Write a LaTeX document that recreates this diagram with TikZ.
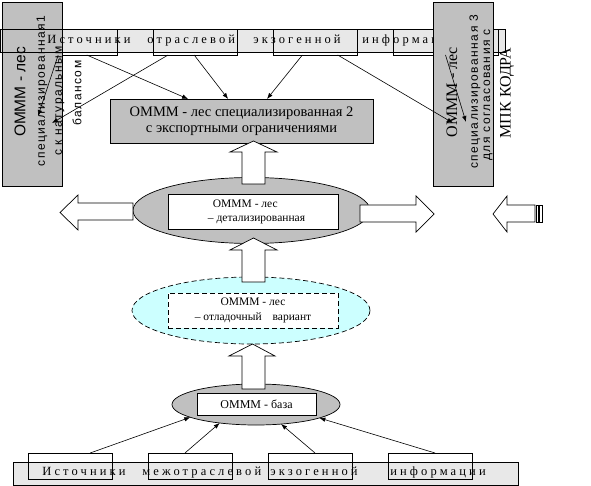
\documentclass[tikz,border=0pt]{standalone}
\usepackage{fontspec}
\setmainfont{Liberation Serif}
\newfontfamily\sansrm{Liberation Sans}
\newfontfamily\spacedrm[LetterSpace=25]{Liberation Serif}
\newfontfamily\spacedsans[LetterSpace=12]{Liberation Sans}
\usetikzlibrary{arrows.meta,shapes.geometric,calc}
\definecolor{boxgray}{HTML}{C0C0C0}
\definecolor{bandgray}{HTML}{E8E8E8}
\definecolor{palecyan}{HTML}{CCFFFF}

\tikzset{
  graybox/.style={draw, fill=boxgray, inner sep=0pt, outer sep=0pt},
  whitebox/.style={draw, fill=white, inner sep=0pt, outer sep=0pt},
  srcbox/.style={draw, minimum width=84pt, minimum height=26pt, inner sep=0pt, outer sep=0pt},
  oval/.style={ellipse, draw, inner sep=0pt, outer sep=0pt},
  fatarrow/.style={draw, fill=white, line join=miter},
  feed/.style={line width=0.6pt, -{Latex[length=6pt,width=4.5pt]}},
  word/.style={anchor=base west, inner sep=0pt, font=\spacedrm\fontsize{12.5}{14}\selectfont},
  sidetext/.style={rotate=90, inner sep=0pt, font=\spacedsans\fontsize{12}{14}\selectfont},
}

\begin{document}
\begin{tikzpicture}[x=1pt,y=-1pt,>=latex,line width=0.7pt]
\useasboundingbox (0,0) rectangle (591,486);

% upper band of sources
\fill[bandgray] (0,29) rectangle (505,52);
\node[srcbox] (t1) at (75,42) {};
\node[srcbox] (t2) at (195,42) {};
\node[srcbox] (t3) at (315,42) {};
\node[srcbox, minimum width=105pt] (t4) at (445.5,42) {};

% model 1, left
\node[graybox, minimum width=60pt, minimum height=184pt] (spec1) at (32,94) {};
\draw (0,29) rectangle (505,52);
\node[word] (tw1) at (47,44) {Источники};
\node[word] (tw2) at (147,44) {отраслевой};
\node[word] (tw3) at (253,44) {экзогенной};
\node[word] (tw4) at (362,44) {информации};

\node[rotate=90, inner sep=0pt, font=\sansrm\fontsize{15.5}{18}\selectfont] (s1a) at (20,92) {ОМММ - лес};
\node[sidetext] (s1b) at (42,91) {специализированная1};
\node[sidetext] (s1c) at (60,101) {с к натуральным};
\node[sidetext] (s1d) at (77,93) {балансом};

% model 3, right
\node[graybox, minimum width=60pt, minimum height=184pt] (spec3) at (463,94) {};
\node[rotate=90, inner sep=0pt, font=\fontsize{16}{18}\selectfont] (s3a) at (452,92) {ОМММ - лес};
\node[sidetext] (s3b) at (475,92) {специализированная 3};
\node[sidetext] (s3c) at (488,95) {для согласования с};
\node[rotate=90, inner sep=0pt, font=\fontsize{16}{18}\selectfont] (s3d) at (507,93) {МПК КОДРА};

% model 2
\node[graybox, minimum width=263pt, minimum height=44pt, align=center,
      font=\fontsize{14.5}{15.5}\selectfont] (spec2) at (241.5,121)
      {ОМММ - лес специализированная 2\\с экспортными ограничениями};

% arrows from the upper band
\coordinate (in1a) at (38,116);
\coordinate (in1b) at (52,123);
\coordinate (in3a) at (453,123);
\coordinate (in3b) at (466,122);
\draw[feed] ($(t1.south west)!.30!(t1.south east)$) -- (in1a);
\draw[feed] ($(t1.south west)!.64!(t1.south east)$) -- ($(spec2.north west)!.297!(spec2.north east)$);
\draw[feed] ($(t2.south west)!.18!(t2.south east)$) -- (in1b);
\draw[feed] ($(t2.south west)!.49!(t2.south east)$) -- ($(spec2.north west)!.449!(spec2.north east)$);
\draw[feed] ($(t3.south west)!.35!(t3.south east)$) -- ($(spec2.north west)!.597!(spec2.north east)$);
\draw[feed] ($(t3.south west)!.77!(t3.south east)$) -- (in3a);
\draw[feed] (t4.south) -- (in3b);

% detailed model
\node[oval, fill=boxgray, minimum width=237pt, minimum height=66pt] (detail) at (251.5,210.5) {};
\node[whitebox, minimum width=170pt, minimum height=35pt, align=left,
      font=\fontsize{11.5}{14}\selectfont] (detbox) at (253,211.5)
      {\hspace*{12pt}ОМММ - лес\\\hspace*{7pt}– детализированная};
\draw[fatarrow] (242,184) -- (242,152) -- (230,152) -- (253.5,141) -- (277,152) -- (265,152) -- (265,184) -- cycle;
\draw[fatarrow] (133,203) -- (78,203) -- (78,195) -- (60,212.5) -- (78,230) -- (78,220) -- (133,220) -- cycle;
\draw[fatarrow] (360,205) -- (416,205) -- (416,196) -- (434,214) -- (416,232) -- (416,222) -- (360,222) -- cycle;
\draw[fatarrow] (535,205) -- (507,205) -- (507,196) -- (493,214) -- (507,232) -- (507,222) -- (535,222) -- cycle;
\draw[fill=white] (536,205) rectangle (538.5,222);
\draw[fill=white] (539.5,205) rectangle (542,222);

% debug model
\node[oval, fill=palecyan, dash pattern=on 5pt off 3pt, minimum width=238pt, minimum height=67pt] (debug) at (251,310.5) {};
\node[whitebox, dash pattern=on 5pt off 3pt, minimum width=170pt, minimum height=35pt, align=center,
      font=\fontsize{11.5}{15}\selectfont] (dbgbox) at (253,310.5)
      {ОМММ - лес\\– отладочный\hspace{8pt} вариант};
\draw[fatarrow] (242,282) -- (242,250) -- (230,250) -- (253.5,238) -- (277,250) -- (265,250) -- (265,282) -- cycle;

% base model
\node[oval, fill=boxgray, minimum width=168pt, minimum height=41pt] (base) at (256,404.5) {};
\node[whitebox, minimum width=119pt, minimum height=22pt, font=\fontsize{12}{14}\selectfont] (basebox) at (256.5,404) {ОМММ - база};
\draw[fatarrow] (242,389) -- (242,356) -- (229,356) -- (252.5,344) -- (275,356) -- (265,356) -- (265,389) -- cycle;

% lower band of sources
\draw[fill=bandgray] (13,462) rectangle (518,485);
\node[srcbox] (b1) at (70,466) {};
\node[srcbox] (b2) at (190,466) {};
\node[srcbox] (b3) at (310,466) {};
\node[srcbox] (b4) at (430,466) {};
\node[word] (bw1) at (42,475) {Источники};
\node[word] (bw2) at (142,475) {межотраслевой};
\node[word] (bw3) at (270,475) {экзогенной};
\node[word] (bw4) at (390,475) {информации};

\draw[feed] ($(b1.north west)!.74!(b1.north east)$) -- (base.191);
\draw[feed] ($(b2.north west)!.44!(b2.north east)$) -- (base.207);
\draw[feed] ($(b3.north west)!.56!(b3.north east)$) -- (base.322);
\draw[feed] ($(b4.north west)!.56!(b4.north east)$) -- (base.348);
\end{tikzpicture}
\end{document}
